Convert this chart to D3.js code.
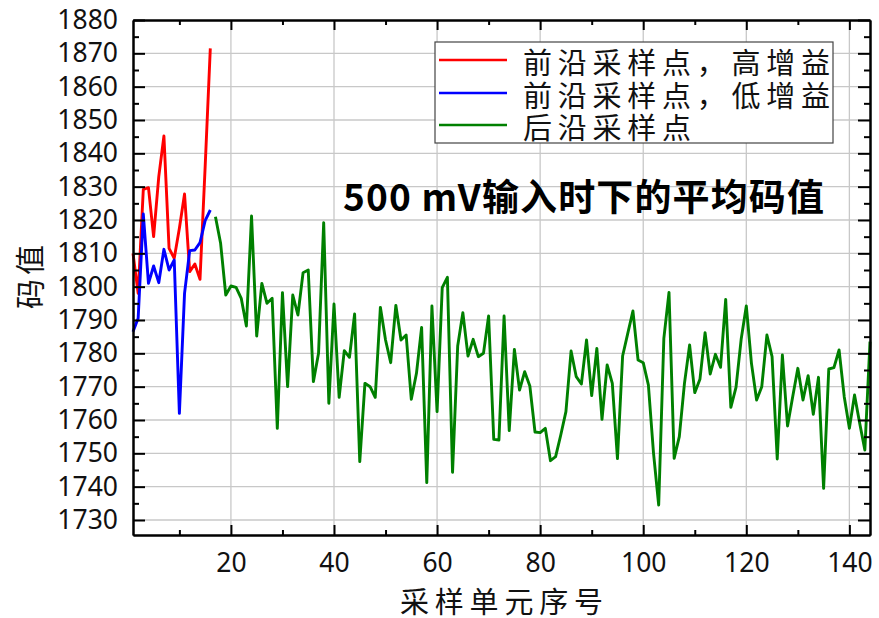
<!DOCTYPE html>
<html><head><meta charset="utf-8">
<script src="https://cdn.jsdelivr.net/npm/d3@7"></script>
<style>
html,body{margin:0;padding:0;background:#fff;}
svg{display:block;}
</style></head>
<body>
<svg id="c" width="879" height="618"></svg>
<script>
// ---- data ----
const seriesNames = ["前沿采样点，高增益", "前沿采样点，低增益", "后沿采样点"];
const seriesColors = ["#ff0000", "#0000ff", "#008000"];
const leadStart = 1;   // first sample unit of leading-edge series
const trailStart = 17; // first sample unit of trailing-edge series
const leadHigh = [1810, 1798, 1829.2, 1829.7, 1815, 1833, 1845.2, 1811.5, 1808.5, 1817.5, 1827.8, 1804.5, 1806.8, 1802.2, 1836, 1871.5];
const leadLow  = [1786.5, 1790.5, 1821.8, 1801, 1806.2, 1801.2, 1811.2, 1805, 1808, 1762, 1798, 1810.8, 1811, 1813.2, 1819.8, 1823];
const trail = [
  1821, 1813, 1797.5, 1800.2, 1799.8, 1796.5, 1788.2, 1821.2, 1785.2, 1801,
  1795, 1796.5, 1757.5, 1798.2, 1770, 1797.5, 1791.5, 1804.2, 1805, 1771.5,
  1780, 1819.2, 1765, 1794.8, 1766.8, 1780.8, 1778.8, 1791.8, 1747.5, 1771,
  1770, 1766.8, 1793.8, 1784, 1777.2, 1794.4, 1784, 1785.5, 1766.2, 1774,
  1787.8, 1741.2, 1794.2, 1762.5, 1799.7, 1802.8, 1744.3, 1782.2, 1792.2, 1779.2,
  1784.2, 1779, 1780, 1791.2, 1754.2, 1754, 1791.2, 1756.8, 1781.2, 1769,
  1774.5, 1770.2, 1756.4, 1756.2, 1757.5, 1747.8, 1749, 1755.5, 1762.5, 1780.7,
  1773, 1770.8, 1784, 1767.3, 1781.5, 1760.2, 1776.5, 1771, 1748.4, 1779.2,
  1786, 1792.7, 1778, 1777.2, 1770.5, 1750, 1734.5, 1784.5, 1798.3, 1748.5,
  1755, 1771, 1782.5, 1768.2, 1772.2, 1786.2, 1773.8, 1779.7, 1775.8, 1796.2,
  1763.8, 1769.8, 1784.2, 1794.2, 1777, 1766, 1770, 1785.5, 1779, 1748.3,
  1779.5, 1758.2, 1767, 1775.5, 1766, 1773.3, 1761.7, 1772.8, 1739.5, 1775.3,
  1775.7, 1781, 1767, 1757.5, 1767.5, 1759, 1751, 1783.5
];
const xTicks = [20, 40, 60, 80, 100, 120, 140];
const xMinor = [10, 30, 50, 70, 90, 110, 130];
const yTicks = [1730, 1740, 1750, 1760, 1770, 1780, 1790, 1800, 1810, 1820, 1830, 1840, 1850, 1860, 1870, 1880];
const yMinor = [1735, 1745, 1755, 1765, 1775, 1785, 1795, 1805, 1815, 1825, 1835, 1845, 1855, 1865, 1875];
const xDomain = [1, 144];
const yDomain = [1725.5, 1880];
const titleText = "500 mV输入时下的平均码值";
const xLabel = "采样单元序号";
const yLabel = "码值";

// ---- layout ----
const L = 133, R = 870, T = 20, B = 535;
const svg = d3.select("#c");
const x = d3.scaleLinear().domain(xDomain).range([L, R]);
const y = d3.scaleLinear().domain(yDomain).range([B, T]);
const numFont = "'Noto Sans', 'DejaVu Sans', sans-serif";
const cjkFont = "'Noto Sans CJK SC', sans-serif";
const grid = "#c8c8c8";

// gridlines
svg.append("g").selectAll("line").data(yTicks.filter(v => v < 1880)).join("line")
  .attr("x1", L).attr("x2", R).attr("y1", d => y(d)).attr("y2", d => y(d))
  .attr("stroke", grid).attr("stroke-width", 1.3);
svg.append("g").selectAll("line").data(xTicks).join("line")
  .attr("y1", T).attr("y2", B).attr("x1", d => x(d)).attr("x2", d => x(d))
  .attr("stroke", grid).attr("stroke-width", 1.3);

// lines
const line = d3.line().x(d => x(d[0])).y(d => y(d[1]));
const sets = [
  leadHigh.map((v, i) => [leadStart + i, v]),
  leadLow.map((v, i) => [leadStart + i, v]),
  trail.map((v, i) => [trailStart + i, v])
];
sets.forEach((s, k) => {
  svg.append("path").datum(s).attr("d", line)
    .attr("fill", "none").attr("stroke", seriesColors[k])
    .attr("stroke-width", 2.9).attr("stroke-linejoin", "round");
});

// axes
function styleAxis(g) {
  g.select(".domain").attr("stroke", "#000").attr("stroke-width", 2);
  g.selectAll(".tick line").attr("stroke", "#000").attr("stroke-width", 2);
}
const gx = svg.append("g").attr("transform", `translate(0,${B})`)
  .call(d3.axisBottom(x).tickValues(xTicks).tickSizeInner(-10).tickSizeOuter(0).tickPadding(18).tickFormat(d3.format("d")));
styleAxis(gx);
gx.selectAll("text").attr("font-family", numFont).attr("font-size", 26.5).attr("fill", "#111");
const gxm = svg.append("g").attr("transform", `translate(0,${B})`)
  .call(d3.axisBottom(x).tickValues(xMinor).tickSizeInner(-5).tickSizeOuter(0).tickFormat(""));
styleAxis(gxm);
const gt = svg.append("g").attr("transform", `translate(0,${T})`)
  .call(d3.axisTop(x).tickValues(xTicks).tickSizeInner(-10).tickSizeOuter(0).tickFormat(""));
styleAxis(gt);
const gtm = svg.append("g").attr("transform", `translate(0,${T})`)
  .call(d3.axisTop(x).tickValues(xMinor).tickSizeInner(-5).tickSizeOuter(0).tickFormat(""));
styleAxis(gtm);

const gy = svg.append("g").attr("transform", `translate(${L},0)`)
  .call(d3.axisLeft(y).tickValues(yTicks).tickSizeInner(-12).tickSizeOuter(0).tickPadding(15).tickFormat(d3.format("d")));
styleAxis(gy);
gy.selectAll("text").attr("font-family", numFont).attr("font-size", 26.5).attr("fill", "#111");
const gym = svg.append("g").attr("transform", `translate(${L},0)`)
  .call(d3.axisLeft(y).tickValues(yMinor).tickSizeInner(-6).tickSizeOuter(0).tickFormat(""));
styleAxis(gym);
const gr = svg.append("g").attr("transform", `translate(${R},0)`)
  .call(d3.axisRight(y).tickValues(yTicks).tickSizeInner(-12).tickSizeOuter(0).tickFormat(""));
styleAxis(gr);
const grm = svg.append("g").attr("transform", `translate(${R},0)`)
  .call(d3.axisRight(y).tickValues(yMinor).tickSizeInner(-6).tickSizeOuter(0).tickFormat(""));
styleAxis(grm);

// axis labels
svg.append("text").attr("x", 400).attr("y", 600)
  .attr("dominant-baseline", "central")
  .attr("font-family", cjkFont).attr("font-size", 29).attr("fill", "#111")
  .attr("textLength", 203).attr("lengthAdjust", "spacing")
  .text(xLabel);
svg.append("text").attr("transform", "translate(28,309) rotate(-90)")
  .attr("dominant-baseline", "central")
  .attr("font-family", cjkFont).attr("font-size", 30).attr("fill", "#111")
  .attr("textLength", 64).attr("lengthAdjust", "spacing")
  .text(yLabel);

// title
svg.append("text").attr("x", 343).attr("y", 211)
  .attr("font-family", cjkFont).attr("font-weight", "bold").attr("font-size", 37).attr("fill", "#000")
  .attr("textLength", 481).attr("lengthAdjust", "spacing")
  .text(titleText);

// legend
const lg = svg.append("g");
lg.append("rect").attr("x", 435).attr("y", 42).attr("width", 398).attr("height", 101)
  .attr("fill", "#fff").attr("stroke", "#444").attr("stroke-width", 1.2);
const ly = [60, 93, 125];
const lLen = [307, 307, 168];
seriesNames.forEach((n, k) => {
  lg.append("line").attr("x1", 439).attr("x2", 507).attr("y1", ly[k]).attr("y2", ly[k])
    .attr("stroke", seriesColors[k]).attr("stroke-width", 2.6);
  lg.append("text").attr("x", 523).attr("y", ly[k] + 1)
    .attr("dominant-baseline", "central")
    .attr("font-family", cjkFont).attr("font-size", 29).attr("fill", "#111")
    .attr("textLength", lLen[k]).attr("lengthAdjust", "spacing")
    .text(n);
});
</script>
</body></html>
